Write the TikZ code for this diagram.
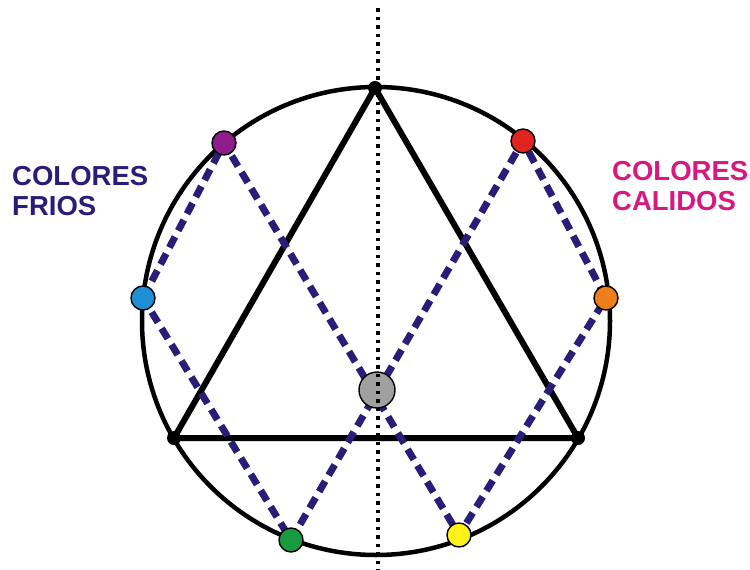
\documentclass[tikz,border=0pt]{standalone}
\usepackage{fontspec}
\setmainfont{Liberation Sans}
\usetikzlibrary{positioning}
\definecolor{frionavy}{RGB}{40,30,120}
\definecolor{calidopink}{RGB}{214,24,128}
\definecolor{dotpurple}{RGB}{142,28,138}
\definecolor{dotred}{RGB}{224,36,32}
\definecolor{dotblue}{RGB}{30,142,214}
\definecolor{dotorange}{RGB}{238,126,26}
\definecolor{dotgreen}{RGB}{26,154,64}
\definecolor{dotyellow}{RGB}{255,242,26}
\definecolor{dotgray}{RGB}{160,160,160}

\begin{document}
\begin{tikzpicture}[x=1pt,y=-1pt,
  ring/.style={draw=black,line width=4.5pt},
  tri/.style={draw=black,line width=6pt,line join=round},
  zig/.style={draw=frionavy,line width=7pt,dash pattern=on 12pt off 7pt},
  axis/.style={draw=black,line width=3.5pt,dash pattern=on 3.5pt off 5pt},
  tone/.style={circle,draw=black,line width=1.4pt,minimum size=24pt,inner sep=0pt},
  corner/.style={circle,fill=black,minimum size=14pt,inner sep=0pt},
  label/.style={anchor=north west,inner sep=0pt,align=left,font=\fontsize{27.5}{30}\selectfont\bfseries}]
\useasboundingbox (0,0) rectangle (750,570);

\coordinate (o) at (376,321);
\coordinate (ap) at (375,88);
\coordinate (bl) at (174,438);
\coordinate (br) at (578,438);
\coordinate (pu) at (224,143);
\coordinate (re) at (523,141);
\coordinate (bu) at (143,298);
\coordinate (or) at (606,298);
\coordinate (gr) at (291,540);
\coordinate (ye) at (459,535);
\coordinate (mid) at (377,390);
\coordinate (top) at (378,8);
\coordinate (bot) at (378,570);

\draw[ring] (o) circle[radius=234];
\draw[tri] (ap)--(bl)--(br)--cycle;
\draw[zig] (bu)--(pu)--(ye)--(or)--(re)--(gr)--cycle;

\node[tone,fill=dotpurple] (p) at (pu) {};
\node[tone,fill=dotred] (r) at (re) {};
\node[tone,fill=dotblue] (b) at (bu) {};
\node[tone,fill=dotorange] (n) at (or) {};
\node[tone,fill=dotgreen] (g) at (gr) {};
\node[tone,fill=dotyellow] (y) at (ye) {};
\node[tone,fill=dotgray,minimum size=36pt] (m) at (mid) {};
\node[corner] (t1) at (ap) {};
\node[corner] (t2) at (bl) {};
\node[corner] (t3) at (br) {};

\draw[axis] (top)--(bot);

\node[label,text=frionavy] (frios) at (12,166) {COLORES\\FRIOS};
\node[label,text=calidopink] (calidos) at (612,161) {COLORES\\CALIDOS};
\end{tikzpicture}
\end{document}
